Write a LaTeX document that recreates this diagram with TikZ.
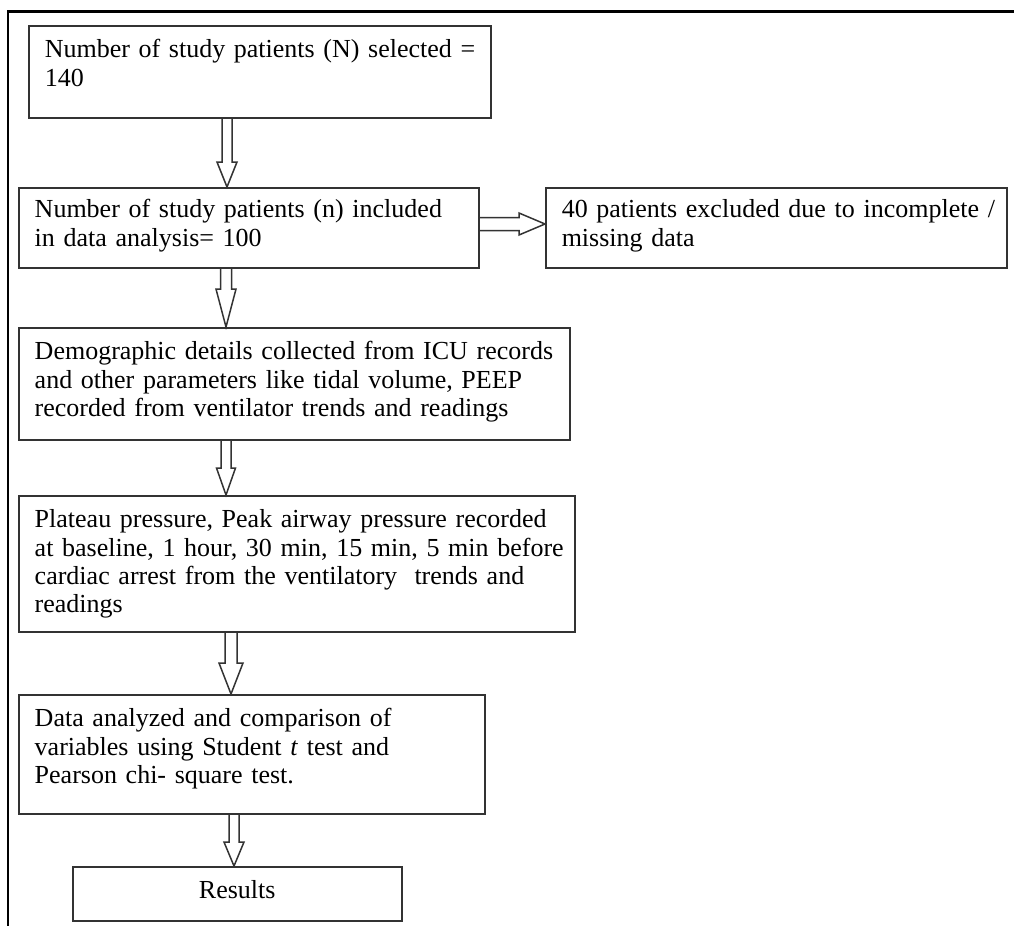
\documentclass[tikz,border=0pt]{standalone}
\usepackage{fontspec}
\setmainfont{Liberation Serif}
\usetikzlibrary{calc}

\begin{document}
\begin{tikzpicture}[x=0.5pt,y=-0.5pt,
    flowbox/.style={draw=black!80, line width=0.75pt, anchor=north west,
      execute at begin node={\raggedright\leftskip=3pt},
      inner xsep=5pt, inner ysep=4pt, text height=12pt,
      font=\fontsize{13}{14.2}\selectfont},
    hollowdown/.style args={#1/#2/#3}{draw=black!80, line width=0.75pt,
      to path={let \p1=(\tikztostart), \p2=(\tikztotarget) in
        (\x1-#1,\y1) -- (\x1-#1,\y2+#3) -- (\x1-#2,\y2+#3) -- (\x1,\y2)
        -- (\x1+#2,\y2+#3) -- (\x1+#1,\y2+#3) -- (\x1+#1,\y1)}},
    hollowright/.style args={#1/#2/#3}{draw=black!80, line width=0.75pt,
      to path={let \p1=(\tikztostart), \p2=(\tikztotarget) in
        (\x1,\y1+#1) -- (\x2-#3,\y1+#1) -- (\x2-#3,\y1+#2) -- (\x2,\y1)
        -- (\x2-#3,\y1-#2) -- (\x2-#3,\y1-#1) -- (\x1,\y1-#1)}}]
  \useasboundingbox (0,0) rectangle (1014,926);
  \draw[line width=1.1pt] (8,926) -- (8,11.5) -- (1014,11.5);

  \node[flowbox, text width=221pt, text depth=26pt] (selected) at (28,25)
    {Number of study patients (N) selected =\\140};
  \node[flowbox, text width=220pt, text height=11pt, text depth=21pt] (included) at (18,187)
    {Number of study patients (n) included\\in data analysis= 100};
  \node[flowbox, text width=220.5pt, text height=11pt, text depth=21pt] (excluded) at (545,187)
    {40 patients excluded due to incomplete /\\missing data};
  \node[flowbox, text width=265.5pt, text depth=36pt] (demog) at (18,327)
    {Demographic details collected from ICU records\\and other parameters like tidal volume, PEEP\\recorded from ventilator trends and readings};
  \node[flowbox, text width=268pt, text depth=48pt] (plateau) at (18,495)
    {Plateau pressure, Peak airway pressure recorded\\at baseline, 1 hour, 30 min, 15 min, 5 min before\\cardiac arrest from the ventilatory\ \ trends and\\readings};
  \node[flowbox, text width=223pt, text depth=39.5pt] (analysis) at (18,694)
    {Data analyzed and comparison of\\variables using Student \textit{t} test and\\Pearson chi- square test.};
  \node[flowbox, execute at begin node=\centering, text width=154.5pt, text depth=7pt] (results) at (72,866)
    {Results};

  \draw[hollowdown=2.5pt/5pt/12.5pt] (227,0 |- selected.south) to (227,0 |- included.north);
  \draw[hollowright=3.25pt/5.5pt/13pt] (included.east |- 0,224) to (excluded.west |- 0,224);
  \draw[hollowdown=2.75pt/5pt/19pt] (226,0 |- included.south) to (226,0 |- demog.north);
  \draw[hollowdown=2.5pt/4.75pt/13.5pt] (226,0 |- demog.south) to (226,0 |- plateau.north);
  \draw[hollowdown=3pt/6pt/15.5pt] (231,0 |- plateau.south) to (231,0 |- analysis.north);
  \draw[hollowdown=2.5pt/5pt/12pt] (234,0 |- analysis.south) to (234,0 |- results.north);
\end{tikzpicture}
\end{document}
